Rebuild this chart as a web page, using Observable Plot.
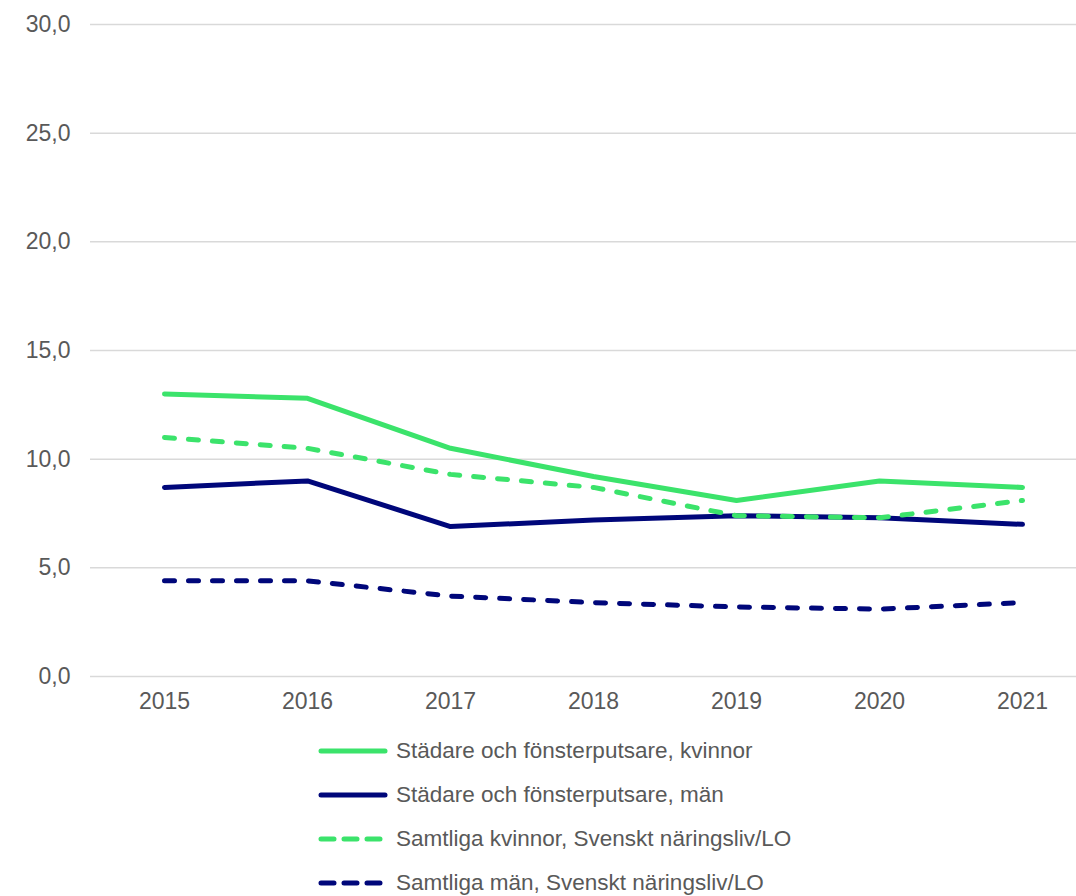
<!DOCTYPE html>
<html>
<head>
<meta charset="utf-8">
<script src="https://cdn.jsdelivr.net/npm/d3@7"></script>
<script src="https://cdn.jsdelivr.net/npm/@observablehq/plot@0.6"></script>
<style>
  body { margin: 0; background: #fff; font-family: "Liberation Sans", Arial, sans-serif; overflow: hidden; }
  #chart svg { display: block; }
  #legend { margin-left: 318px; margin-top: 9px; }
  .row { display: flex; align-items: center; height: 44px; font-size: 22.5px; line-height: 26px; color: #595959; white-space: nowrap; }
  .row svg { margin-right: 8px; flex: none; }
</style>
</head>
<body>
<div id="chart"></div>
<div id="legend"></div>
<script>
const years = [2015, 2016, 2017, 2018, 2019, 2020, 2021];
const seriesNames = [
  "Städare och fönsterputsare, kvinnor",
  "Städare och fönsterputsare, män",
  "Samtliga kvinnor, Svenskt näringsliv/LO",
  "Samtliga män, Svenskt näringsliv/LO"
];
const stadKvinnor = [13.0, 12.8, 10.5, 9.2, 8.1, 9.0, 8.7];
const stadMan     = [8.7, 9.0, 6.9, 7.2, 7.4, 7.3, 7.0];
const allKvinnor  = [11.0, 10.5, 9.3, 8.7, 7.4, 7.3, 8.1];
const allMan      = [4.4, 4.4, 3.7, 3.4, 3.2, 3.1, 3.4];
const yTicks = [0, 5, 10, 15, 20, 25, 30];

const colors = ["#3be36b", "#00077a", "#3be36b", "#00077a"];
const dashes = [null, null, "10,14", "10,14"];
const allValues = [stadKvinnor, stadMan, allKvinnor, allMan];

const data = [];
allValues.forEach((vals, s) => vals.forEach((v, i) => data.push({series: seriesNames[s], year: years[i], value: v})));

const fmt = d => d3.format(".1f")(d).replace(".", ",");

const lineMarks = seriesNames.map((name, s) =>
  Plot.line(data.filter(d => d.series === name), {
    x: "year", y: "value",
    stroke: colors[s], strokeWidth: 5,
    strokeDasharray: dashes[s] || undefined,
    strokeLinecap: "round", strokeLinejoin: "round"
  })
);

const chart = Plot.plot({
  width: 1076,
  height: 720,
  marginLeft: 90,
  marginRight: 0,
  marginTop: 24,
  marginBottom: 44,
  style: { fontFamily: "Liberation Sans, Arial, sans-serif", fontSize: "23px", color: "#595959", background: "#fff", overflow: "visible" },
  x: { type: "point", domain: years, range: [163, 1022], padding: 0, label: null },
  y: { domain: [0, 30], label: null },
  marks: [
    Plot.ruleY(yTicks, { stroke: "#d9d9d9", strokeWidth: 1.5 }),
    Plot.axisY({ ticks: yTicks, tickFormat: fmt, tickSize: 0, tickPadding: 20, label: null, fill: "#595959", fontSize: 23 }),
    Plot.axisX({ ticks: years, tickFormat: d => String(d), tickSize: 0, tickPadding: 16, label: null, fill: "#595959", fontSize: 23 }),
    ...lineMarks
  ]
});
document.getElementById("chart").appendChild(chart);

const legend = document.getElementById("legend");
seriesNames.forEach((name, s) => {
  const row = document.createElement("div");
  row.className = "row";
  const dash = dashes[s] ? 'stroke-dasharray="13,10"' : '';
  row.innerHTML = `<svg width="70" height="12"><line x1="3" y1="6" x2="${dashes[s] ? 63 : 67}" y2="6" stroke="${colors[s]}" stroke-width="5" stroke-linecap="round" ${dash}/></svg><span>${name}</span>`;
  legend.appendChild(row);
});
</script>
</body>
</html>
